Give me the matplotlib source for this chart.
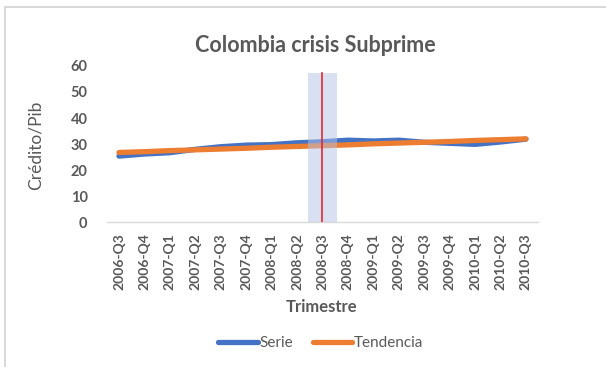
import matplotlib.pyplot as plt
from matplotlib.lines import Line2D

# data
trimestres = ['2006-Q3', '2006-Q4', '2007-Q1', '2007-Q2', '2007-Q3', '2007-Q4',
              '2008-Q1', '2008-Q2', '2008-Q3', '2008-Q4', '2009-Q1', '2009-Q2',
              '2009-Q3', '2009-Q4', '2010-Q1', '2010-Q2', '2010-Q3']
serie = [25.4, 26.2, 26.7, 28.0, 29.0, 29.6, 29.8, 30.5, 30.9, 31.5,
         31.2, 31.5, 30.7, 30.3, 29.9, 30.8, 31.9]
tendencia = [26.8, 27.1, 27.5, 27.8, 28.1, 28.4, 28.8, 29.1, 29.4, 29.7,
             30.1, 30.4, 30.7, 31.0, 31.4, 31.7, 32.0]
crisis = '2008-Q3'
band_top = 57.3

gray = '#595959'
plt.rcParams['font.family'] = ['Lato', 'DejaVu Sans']

fig = plt.figure(figsize=(6.06, 3.67), dpi=100)
ax = fig.add_axes([0.1766, 0.394, 0.711, 0.4267])

x = list(range(len(trimestres)))
ax.plot(x, serie, color='#4472C4', lw=3.8, solid_capstyle='round', label='Serie', zorder=2)
ax.plot(x, tendencia, color='#ED7D31', lw=3.8, solid_capstyle='round', label='Tendencia', zorder=2)

ci = trimestres.index(crisis)
ax.fill_between([ci - 0.58, ci + 0.58], 0, band_top, color='#b4c3e6', alpha=0.5, lw=0, zorder=3)
ax.plot([ci, ci], [0, band_top], color='#e3262e', lw=1.2, zorder=4)

ax.set_xlim(-0.47, 16.47)
ax.set_ylim(0, 60)
ax.set_yticks(range(0, 61, 10))
ax.set_xticks(x)
ax.set_xticklabels(trimestres, rotation=90)

for s in ['top', 'right', 'left']:
    ax.spines[s].set_visible(False)
ax.spines['bottom'].set_color('#d9d9d9')
ax.spines['bottom'].set_linewidth(1)
ax.tick_params(axis='both', length=0, labelcolor=gray)
ax.tick_params(axis='y', pad=14, labelsize=10.5)
ax.tick_params(axis='x', pad=8, labelsize=10)
for lab in ax.get_xticklabels() + ax.get_yticklabels():
    lab.set_fontweight('bold')

fig.text(0.52, 0.877, 'Colombia crisis Subprime', ha='center', va='center',
         fontsize=15.5, fontweight='bold', color=gray)
fig.text(0.058, 0.605, 'Crédito/Pib', rotation=90, ha='center', va='center',
         fontsize=12.5, color=gray)
fig.text(0.531, 0.163, 'Trimestre', ha='center', va='center',
         fontsize=12, fontweight='bold', color=gray)

leg = fig.legend(loc='center', bbox_to_anchor=(0.529, 0.065), ncol=2, frameon=False,
                 fontsize=11, handlelength=2.6, handletextpad=0.1, columnspacing=1.3)
for t in leg.get_texts():
    t.set_color(gray)

# chart frame (top and left edges only visible)
fig.add_artist(Line2D([0.008, 0.008], [0.0, 0.98], color='#d9d9d9', lw=1.5))
fig.add_artist(Line2D([0.008, 1.0], [0.98, 0.98], color='#d9d9d9', lw=1.5))

fig.savefig('out.png', dpi=100)
